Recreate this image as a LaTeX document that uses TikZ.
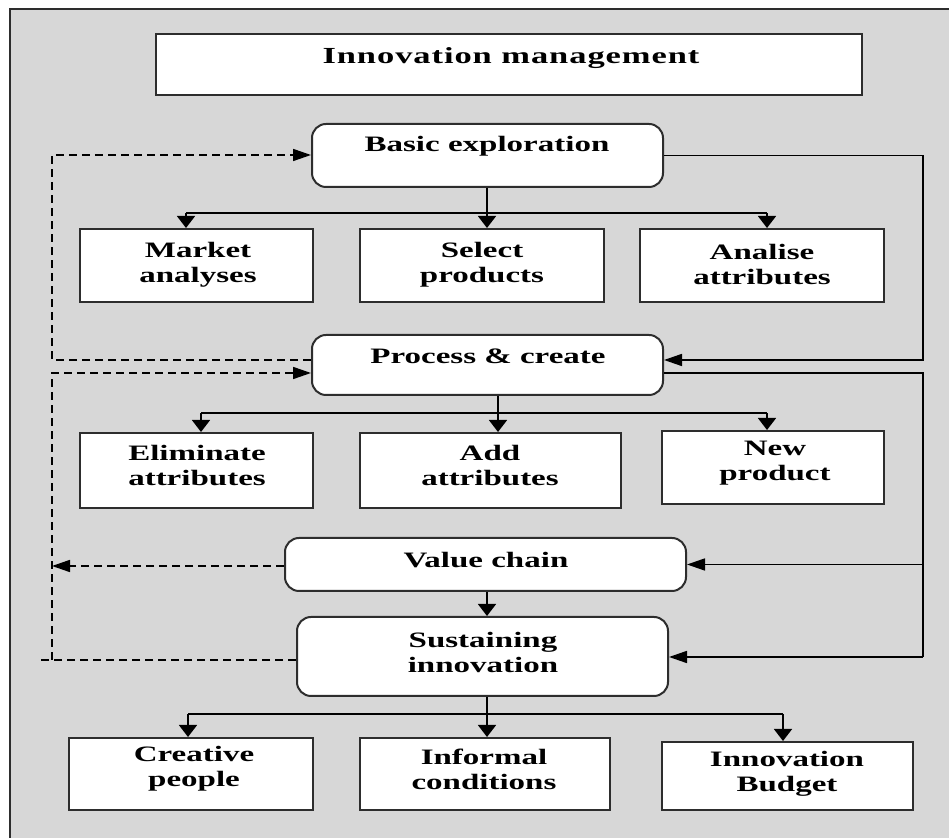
\documentclass[tikz,border=0pt]{standalone}
\usepackage{fontspec}
\setmainfont{Liberation Serif}[FakeStretch=1.5]
\newfontfamily\titlefont{Liberation Serif}[FakeStretch=1.5,LetterSpace=4]
\usetikzlibrary{arrows.meta}
\definecolor{bgc}{RGB}{215,215,215}
\definecolor{framec}{RGB}{45,45,45}
\begin{document}
\begin{tikzpicture}[x=0.5pt,y=-0.5pt,
  box/.style 2 args={draw=framec,line width=1pt,fill=white,inner sep=0pt,
     minimum width=#1*0.5pt,minimum height=#2*0.5pt},
  rbox/.style 2 args={box={#1}{#2},rounded corners=7pt},
  lbl/.style={font=\bfseries\fontsize{11}{12.5}\selectfont,align=center,inner sep=0pt},
  conn/.style={draw=black,line width=0.8pt},
  varr/.style={conn,-{Triangle[length=6pt,width=9pt]}},
  harr/.style={conn,-{Triangle[length=9pt,width=6pt]}},
  dsh/.style={conn,dash pattern=on 4pt off 2.5pt}]
\useasboundingbox (0,0) rectangle (949,838);
\clip (0,0) rectangle (949,838);
\draw[draw=framec,line width=1pt,fill=bgc] (10,9) rectangle (965,850);

% boxes
\node[box={706}{61}] (title) at (509,64.5) {};
\node[rbox={351}{63}] (be) at (487.5,155.5) {};
\node[box={233}{73}] (ma) at (196.5,265.5) {};
\node[box={244}{73}] (sp) at (482,265.5) {};
\node[box={244}{73}] (aa) at (762,265.5) {};
\node[rbox={351}{60}] (pc) at (487.5,365) {};
\node[box={233}{75}] (ea) at (196.5,470.5) {};
\node[box={261}{75}] (ad) at (490.5,470.5) {};
\node[box={222}{73}] (np) at (773,467.5) {};
\node[rbox={401}{53}] (vc) at (485.5,564.5) {};
\node[rbox={371}{79}] (si) at (482.5,656.5) {};
\node[box={244}{72}] (cp) at (191,774) {};
\node[box={250}{72}] (ic) at (485,774) {};
\node[box={251}{68}] (ib) at (787.5,776) {};

% labels
\node[lbl,font=\titlefont\bfseries\fontsize{11.5}{13}\selectfont] (tTitle) at (511,58) {Innovation management};
\node[lbl] (tBe) at (487,146) {Basic exploration};
\node[lbl] (tMa) at (198,265) {Market\\analyses};
\node[lbl] (tSp) at (482,265) {Select\\products};
\node[lbl] (tAa) at (762,265) {Analise\\attributes};
\node[lbl] (tPc) at (488,356) {Process \& create};
\node[lbl] (tEa) at (197,466) {Eliminate\\attributes};
\node[lbl] (tAd) at (490,466) {Add\\attributes};
\node[lbl] (tNp) at (775,463) {New\\product};
\node[lbl] (tVc) at (486,560) {Value chain};
\node[lbl] (tSi) at (483,652) {Sustaining\\innovation};
\node[lbl] (tCp) at (194,769) {Creative\\people};
\node[lbl] (tIc) at (484,769) {Informal\\conditions};
\node[lbl] (tIb) at (787,774) {Innovation\\Budget};

% helper coordinates
\coordinate (bus1) at (487,213);
\coordinate (b1l) at (186,213);
\coordinate (b1r) at (767,213);
\coordinate (bus2) at (498,413);
\coordinate (b2l) at (201,413);
\coordinate (b2r) at (767,413);
\coordinate (bus3) at (487,714);
\coordinate (b3l) at (188,714);
\coordinate (b3r) at (783,714);
\coordinate (rA) at (923,155.5);
\coordinate (rB) at (923,360);
\coordinate (rC) at (923,373);
\coordinate (rD) at (923,657);
\coordinate (lA) at (52,155);
\coordinate (lB) at (52,360);
\coordinate (lC) at (52,373);
\coordinate (lD) at (52,660);
\coordinate (lE) at (40,660);
\coordinate (lV) at (52,566);

% row 1
\draw[varr] (be.south -| bus1) -- (bus1) -- (sp.north -| bus1);
\draw[conn] (b1l) -- (b1r);
\draw[varr] (b1l) -- (ma.north -| b1l);
\draw[varr] (b1r) -- (aa.north -| b1r);
% row 2
\draw[varr] (pc.south -| bus2) -- (bus2) -- (ad.north -| bus2);
\draw[conn] (b2l) -- (b2r);
\draw[varr] (b2l) -- (ea.north -| b2l);
\draw[varr] (b2r) -- (np.north -| b2r);
% value chain to sustaining
\draw[varr] (vc.south -| bus3) -- (si.north -| bus3);
% row 3
\draw[varr] (si.south -| bus3) -- (bus3) -- (ic.north -| bus3);
\draw[conn] (b3l) -- (b3r);
\draw[varr] (b3l) -- (cp.north -| b3l);
\draw[varr] (b3r) -- (ib.north -| b3r);

% right feedback
\draw[harr] (be.east |- rA) -- (rA) -- (rB) -- (pc.east |- rB);
\draw[conn] (pc.east |- rC) -- (rC) -- (rD);
\draw[harr] (rC |- vc.east) -- (vc.east);
\draw[harr] (rD) -- (si.east |- rD);

% left dashed feedback
\draw[dsh,-{Triangle[length=9pt,width=6pt]}] (pc.west |- lB) -- (lB) -- (lA) -- (be.west |- lA);
\draw[dsh] (si.west |- lD) -- (lE);
\draw[dsh,-{Triangle[length=9pt,width=6pt]}] (lD) -- (lC) -- (pc.west |- lC);
\draw[dsh,-{Triangle[length=9pt,width=6pt]}] (vc.west |- lV) -- (lV);
\end{tikzpicture}
\end{document}
